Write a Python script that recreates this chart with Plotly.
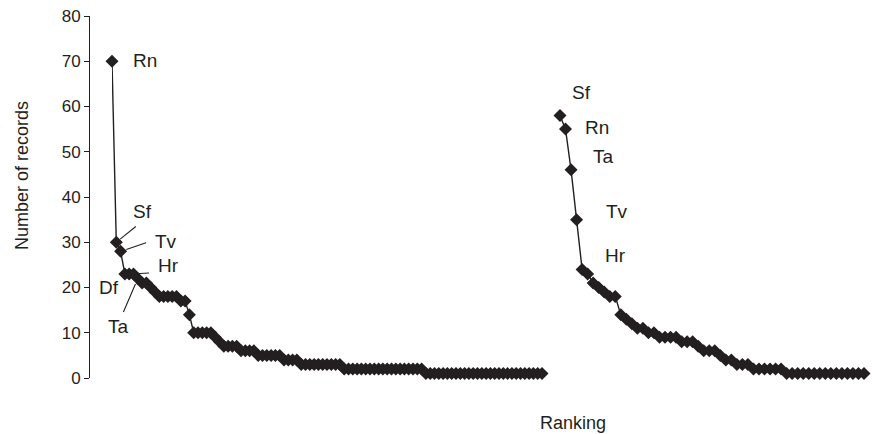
import plotly.graph_objects as go

# ---- data ----
first_values = [70, 30, 28, 23, 23, 23, 22, 21, 21, 20, 19, 18, 18, 18, 18, 18,
                17, 17, 14, 10, 10, 10, 10, 10, 9, 8, 7, 7, 7, 7, 6, 6, 6, 6,
                5, 5, 5, 5, 5, 5, 4, 4, 4, 4,
                3, 3, 3, 3, 3, 3, 3, 3, 3, 3,
                2, 2, 2, 2, 2, 2, 2, 2, 2, 2, 2, 2, 2, 2, 2, 2, 2, 2, 2,
                1, 1, 1, 1, 1, 1, 1, 1, 1, 1, 1, 1, 1, 1, 1, 1, 1, 1, 1, 1,
                1, 1, 1, 1, 1, 1, 1, 1]
second_values = [58, 55, 46, 35, 24, 23, 21, 20, 19, 18, 18, 14, 13, 12, 11, 11,
                 10, 10, 9, 9, 9, 9, 8, 8, 8, 7, 6, 6, 6, 5, 4, 4, 3, 3, 3,
                 2, 2, 2, 2, 2, 2,
                 1, 1, 1, 1, 1, 1, 1, 1, 1, 1, 1, 1, 1, 1, 1]
first_rank = list(range(1, len(first_values) + 1))
second_rank = list(range(1, len(second_values) + 1))

# labelled taxa: label -> rank
first_labels = {"Rn": 1, "Sf": 2, "Tv": 3, "Df": 4, "Ta": 7, "Hr": 6}
second_labels = {"Sf": 1, "Rn": 2, "Ta": 3, "Tv": 4, "Hr": 5}
y_ticks = [0, 10, 20, 30, 40, 50, 60, 70, 80]

INK = "#231f20"
FONT = "Liberation Sans, Arial, Helvetica, sans-serif"
W, H = 872, 434
ML, MR, MT, MB = 89, 0, 16, 56
PW = W - ML - MR
PH = H - MT - MB


def dom(px0, px1):
    return [(px0 - ML) / PW, (px1 - ML) / PW]


fig = go.Figure()
fig.add_trace(go.Scatter(x=first_rank, y=first_values, mode="lines+markers",
                         line=dict(color=INK, width=1.4),
                         marker=dict(symbol="diamond", size=10, color=INK),
                         cliponaxis=False, xaxis="x", yaxis="y", showlegend=False))
fig.add_trace(go.Scatter(x=second_rank, y=second_values, mode="lines+markers",
                         line=dict(color=INK, width=1.4),
                         marker=dict(symbol="diamond", size=10, color=INK),
                         cliponaxis=False, xaxis="x2", yaxis="y", showlegend=False))

ann = []
lab_font = dict(family=FONT, size=19, color=INK)


def txt(xref, rank, vals, text, xs, ys, xanchor="left"):
    ann.append(dict(x=rank, y=vals[rank - 1], xref=xref, yref="y", text=text,
                    showarrow=False, xanchor=xanchor, yanchor="middle",
                    xshift=xs, yshift=ys, font=lab_font))


def leader(xref, rank, vals, ax, ay, standoff):
    ann.append(dict(x=rank, y=vals[rank - 1], xref=xref, yref="y", text="",
                    showarrow=True, arrowhead=0, arrowwidth=1.1, arrowcolor=INK,
                    ax=ax, ay=ay, standoff=standoff))


# first series labels
txt("x", first_labels["Rn"], first_values, "Rn", 19, 1)
txt("x", first_labels["Sf"], first_values, "Sf", 15, 31)
leader("x", first_labels["Sf"], first_values, 21, -17, 5)
txt("x", first_labels["Tv"], first_values, "Tv", 32, 10)
leader("x", first_labels["Tv"], first_values, 27, -9, 6)
txt("x", first_labels["Hr"], first_values, "Hr", 22, 8)
leader("x", first_labels["Hr"], first_values, 17, -1, 2)
txt("x", first_labels["Df"], first_values, "Df", -4, -14, "right")
txt("x", first_labels["Ta"], first_values, "Ta", -19, -48, "center")
leader("x", first_labels["Ta"], first_values, -15, 35, 6)

# second series labels
txt("x2", second_labels["Sf"], second_values, "Sf", 10, 23)
txt("x2", second_labels["Rn"], second_values, "Rn", 17, 2)
txt("x2", second_labels["Ta"], second_values, "Ta", 20, 13)
txt("x2", second_labels["Tv"], second_values, "Tv", 27, 8)
txt("x2", second_labels["Hr"], second_values, "Hr", 21, 14)

ann.append(dict(text="Ranking", xref="paper", yref="paper",
                x=(573 - ML) / PW, y=(378 - 423) / PH,
                xanchor="center", yanchor="middle", showarrow=False,
                font=dict(family=FONT, size=18, color=INK)))
ann.append(dict(text="Number of records", xref="paper", yref="paper",
                x=(22 - ML) / PW, y=(378 - 176) / PH, textangle=-90,
                xanchor="center", yanchor="middle", showarrow=False,
                font=dict(family=FONT, size=18, color=INK)))

fig.update_layout(
    width=W, height=H,
    margin=dict(l=ML, r=MR, t=MT, b=MB),
    paper_bgcolor="white", plot_bgcolor="white",
    font=dict(family=FONT, color=INK),
    xaxis=dict(domain=dom(112, 542), range=[1, len(first_values)],
               visible=False, anchor="y", automargin=False),
    xaxis2=dict(domain=dom(560, 864), range=[1, len(second_values)],
                visible=False, anchor="y", automargin=False),
    yaxis=dict(range=[0, 80], tickvals=y_ticks, ticks="outside", ticklen=5,
               tickwidth=1, tickcolor=INK, showline=True, linecolor=INK,
               linewidth=1, showgrid=False, zeroline=False,
               anchor="free", position=0, automargin=False,
               tickfont=dict(family=FONT, size=17, color=INK)),
    annotations=ann,
)

fig.write_html("out.html", config={"displayModeBar": False},
               post_script="document.body.style.margin='0';"
                           "document.body.style.overflow='hidden';")
